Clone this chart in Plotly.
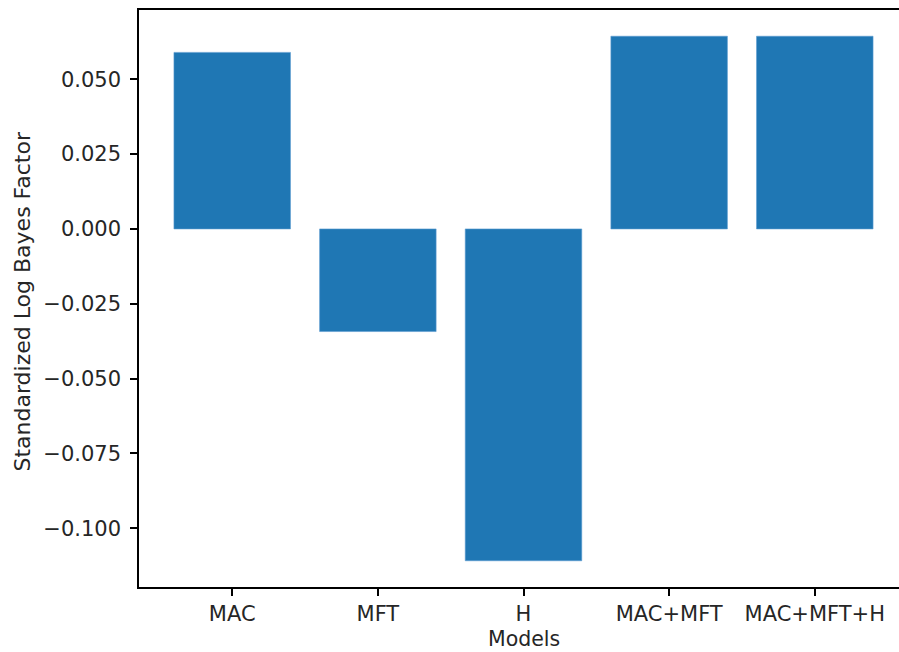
import plotly.graph_objects as go

# Model comparison: standardized log Bayes factors
models = ["MAC", "MFT", "H", "MAC+MFT", "MAC+MFT+H"]
log_bayes = [0.0590, -0.0343, -0.1109, 0.0644, 0.0644]
ytick_vals = [-0.100, -0.075, -0.050, -0.025, 0.000, 0.025, 0.050]
ytick_text = [("−" if v < 0 else "") + f"{abs(v):.3f}" for v in ytick_vals]

TICK_FONT = dict(family="DejaVu Sans", size=21, color="#262626")
XTITLE_FONT = dict(family="DejaVu Sans", size=20.5, color="#262626")
YTITLE_FONT = dict(family="DejaVu Sans", size=22, color="#262626")

# axis limits padded by 5% of the data span on each side
lo, hi = min(log_bayes), max(log_bayes)
pad = 0.05 * (hi - lo)
yrange = [lo - pad, hi + pad]
xpad = 0.05 * (len(models) - 1 + 0.8)
x_lo = -0.4 - xpad
x_hi = len(models) - 1 + 0.4 + xpad
# the figure is cropped on the right, just short of the right-hand spine
x_hi_visible = x_hi - 9 / 145.6

fig = go.Figure(
    go.Bar(
        x=list(range(len(models))),
        y=log_bayes,
        width=0.8,
        marker=dict(color="#1f77b4", line=dict(color="#5b9bd0", width=0.6)),
    )
)

axis_common = dict(
    showline=True,
    linecolor="black",
    linewidth=1.5,
    ticks="outside",
    ticklen=7,
    tickwidth=1.5,
    tickcolor="black",
    showgrid=False,
    zeroline=False,
    tickfont=TICK_FONT,
)

fig.update_layout(
    width=899,
    height=652,
    margin=dict(l=139, r=0, t=10, b=65, pad=0),
    paper_bgcolor="white",
    plot_bgcolor="white",
    showlegend=False,
    xaxis=dict(
        axis_common,
        mirror=True,
        range=[x_lo, x_hi_visible],
        tickmode="array",
        tickvals=list(range(len(models))),
        ticktext=models,
    ),
    yaxis=dict(
        axis_common,
        mirror=False,
        range=yrange,
        tickmode="array",
        tickvals=ytick_vals,
        ticktext=ytick_text,
        ticklabelstandoff=5,
    ),
)

# axis titles, centred on the full (uncropped) axes
fig.add_annotation(
    text="Models",
    xref="x", x=(x_lo + x_hi) / 2,
    yref="paper", y=0,
    xanchor="center", yanchor="middle",
    yshift=-52, borderpad=0,
    showarrow=False,
    font=XTITLE_FONT,
)
fig.add_annotation(
    text="Standardized Log Bayes Factor",
    textangle=-90,
    xref="paper", x=0,
    yref="paper", y=0.5,
    xanchor="center", yanchor="middle",
    xshift=-117, yshift=-3,
    showarrow=False,
    font=YTITLE_FONT,
)

fig.write_html("out.html")
